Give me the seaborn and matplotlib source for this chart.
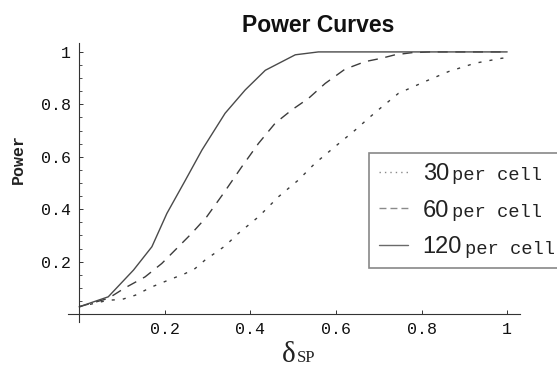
import numpy as np
import pandas as pd
import matplotlib
matplotlib.use("Agg")
import matplotlib.pyplot as plt
import seaborn as sns
from matplotlib.lines import Line2D
from matplotlib.ticker import MultipleLocator

# ---------------- data ----------------
x30 = [0, 0.068, 0.1, 0.131, 0.17, 0.209, 0.248, 0.271, 0.294, 0.341, 0.372, 0.419,
       0.466, 0.512, 0.551, 0.598, 0.645, 0.676, 0.699, 0.746, 0.808, 0.863, 0.925,
       0.988, 1.0]
y30 = [0.028, 0.053, 0.056, 0.072, 0.104, 0.13, 0.155, 0.174, 0.206, 0.26, 0.308, 0.371,
       0.448, 0.511, 0.575, 0.639, 0.702, 0.747, 0.779, 0.842, 0.887, 0.925, 0.957,
       0.976, 0.977]

x60 = [0, 0.068, 0.107, 0.154, 0.193, 0.232, 0.263, 0.298, 0.337, 0.38, 0.419, 0.458,
       0.497, 0.536, 0.575, 0.621, 0.668, 0.707, 0.738, 0.777, 0.82, 1.0]
y60 = [0.028, 0.06, 0.1, 0.142, 0.193, 0.257, 0.308, 0.371, 0.46, 0.562, 0.651, 0.728,
       0.779, 0.823, 0.88, 0.934, 0.963, 0.976, 0.989, 0.997, 1.0, 1.0]

x120 = [0, 0.068, 0.127, 0.17, 0.205, 0.248, 0.287, 0.341, 0.388, 0.435, 0.505, 0.559, 1.0]
y120 = [0.028, 0.066, 0.168, 0.257, 0.384, 0.51, 0.626, 0.766, 0.855, 0.93, 0.989, 1.0, 1.0]

series_names = ["30", "60", "120"]
legend_suffix = "per cell"
xtick_vals = [0.2, 0.4, 0.6, 0.8, 1.0]
xtick_labels = ["0.2", "0.4", "0.6", "0.8", "1"]
ytick_vals = [0.2, 0.4, 0.6, 0.8, 1.0]
ytick_labels = ["0.2", "0.4", "0.6", "0.8", "1"]
title = "Power Curves"
ylabel = "Power"

df = pd.concat([
    pd.DataFrame({"delta": x30, "power": y30, "n": "30"}),
    pd.DataFrame({"delta": x60, "power": y60, "n": "60"}),
    pd.DataFrame({"delta": x120, "power": y120, "n": "120"}),
], ignore_index=True)

# ---------------- style ----------------
sns.set_style("white")
plt.rcParams["font.family"] = ["Liberation Mono", "DejaVu Sans"]
plt.rcParams["lines.scale_dashes"] = False

W, H = 557, 370
fig = plt.figure(figsize=(W / 100, H / 100), dpi=100)
ax = fig.add_axes([68 / W, 1 - 322 / H, 452 / W, 279 / H])

palette = {"30": "#3c3c3c", "60": "#3c3c3c", "120": "#4a4a4a"}
dashes = {"30": (2.2, 5.8), "60": (7.2, 5.5), "120": ""}
sns.lineplot(data=df, x="delta", y="power", hue="n", style="n",
             palette=palette, dashes=dashes, estimator=None, legend=False,
             linewidth=1.0, ax=ax)

ax.set_xlim(-0.026, 1.03)
ax.set_ylim(-0.03, 1.034)
for s in ["top", "right"]:
    ax.spines[s].set_visible(False)
ax.spines["left"].set_position(("data", 0))
ax.spines["bottom"].set_position(("data", 0))
for s in ["left", "bottom"]:
    ax.spines[s].set_color("#333333")
    ax.spines[s].set_linewidth(0.8)

ax.set_xticks(xtick_vals, labels=xtick_labels)
ax.set_yticks(ytick_vals, labels=ytick_labels)
ax.yaxis.set_minor_locator(MultipleLocator(0.05))
ax.tick_params(which="both", bottom=True, left=True, direction="in",
               color="#333333")
ax.tick_params(which="major", length=3, width=0.7, labelsize=12, pad=6,
               labelcolor="#111111")
ax.tick_params(which="minor", axis="y", length=2, width=0.6)
ax.set_xlabel("")
ax.set_ylabel("")

# legend: numbers in sans, "per cell" in mono right after them
handles = [
    Line2D([], [], color="#8a8a8a", lw=1.0, linestyle=(0, (1.0, 2.9))),
    Line2D([], [], color="#8a8a8a", lw=1.0, linestyle=(0, (5.0, 2.9))),
    Line2D([], [], color="#6a6a6a", lw=1.0, linestyle="-"),
]
leg = ax.legend(handles, series_names, loc="upper left",
                bbox_to_anchor=(369 / W, 1 - 283 / H, 260 / W, 130 / H),
                bbox_transform=fig.transFigure, mode="expand",
                borderaxespad=0, borderpad=0.42, handlelength=1.25, handletextpad=0.6,
                labelspacing=0.62, frameon=True, fancybox=False, framealpha=1,
                edgecolor="#888888",
                prop={"family": ["Liberation Sans", "DejaVu Sans"], "size": 17})
leg.get_frame().set_linewidth(1.2)
for t in leg.get_texts():
    t.set_color("#222222")
for t in leg.get_texts():
    ax.annotate(legend_suffix, xy=(1, 0), xycoords=t, xytext=(2, 0.5),
                textcoords="offset points", ha="left", va="bottom",
                fontfamily=["Liberation Mono", "DejaVu Sans"], fontsize=13.5,
                color="#222222", zorder=10)

# title and labels
fig.text(318 / W, 1 - 25 / H, title, family=["Liberation Sans", "DejaVu Sans"],
         weight="bold", size=16.5, ha="center", va="center", color="#111111")
fig.text(18 / W, 1 - 159 / H, ylabel, rotation=90, family=["Liberation Mono", "DejaVu Sans"],
         weight="bold", size=12, ha="center", va="center", color="#222222")
fig.text(296 / W, 1 - 362 / H, "δ", family=["Liberation Serif", "DejaVu Serif"],
         size=21, ha="right", va="baseline", color="#222222")
fig.text(297 / W, 1 - 362 / H, "SP", family=["Liberation Serif", "DejaVu Serif"],
         size=12, ha="left", va="baseline", color="#222222")

fig.canvas.draw()
fig.savefig("out.png", dpi=100)
